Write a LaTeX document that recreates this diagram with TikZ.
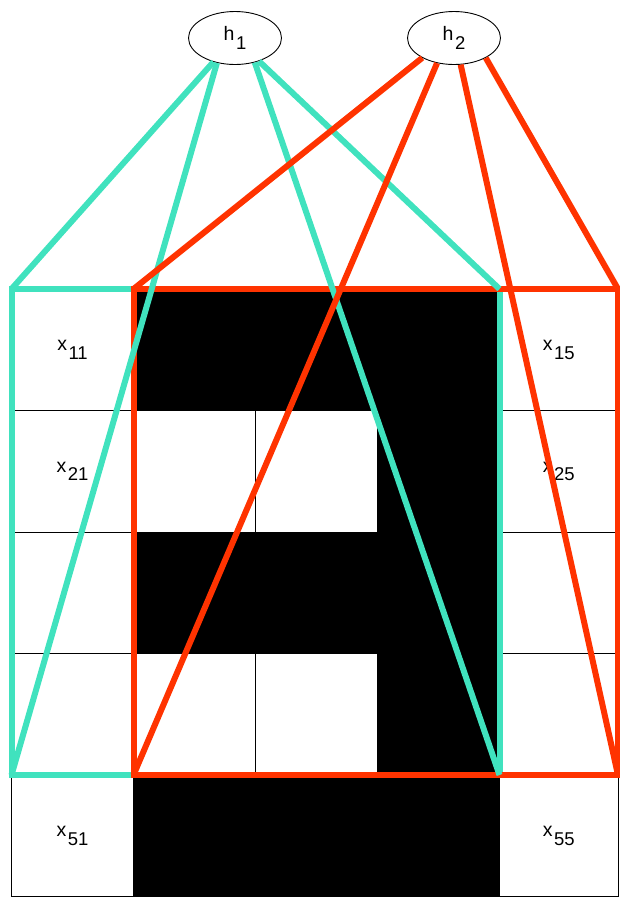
\documentclass[tikz,border=0pt]{standalone}
\usepackage{fontspec}
\setmainfont{Liberation Sans}
\definecolor{turq}{RGB}{64,226,190}
\definecolor{vermil}{RGB}{255,51,0}
\usetikzlibrary{positioning,shapes.geometric}
\newcommand{\lbl}[2]{#1\kern1.5pt\raisebox{-8.5pt}{\fontsize{18.5}{18.5}\selectfont #2}}

\begin{document}
\begin{tikzpicture}[
  x=1pt, y=-1pt,
  cell/.style={draw=black, line width=0.8pt, minimum width=122pt, minimum height=121.5pt, inner sep=0pt, outer sep=0pt, font=\fontsize{19.5}{20}\selectfont},
  dark/.style={cell, fill=black},
  lastcol/.style={cell, minimum width=118.5pt},
  unit/.style={ellipse, draw=black, line width=0.9pt, minimum width=93pt, minimum height=53pt, inner sep=0pt, font=\fontsize{19.5}{20}\selectfont},
  tline/.style={line width=6pt, color=turq},
  rline/.style={line width=6pt, color=vermil},
  node distance=0pt
]
  \useasboundingbox (0,0) rectangle (620,897);

  % hidden units
  \node[unit] (h1) at (235,38) {\lbl{h}{1}};
  \node[unit] (h2) at (454,38) {\lbl{h}{2}};

  % input grid
  \node[cell] (c11) at (72.5,349.75) {\lbl{x}{11}};
  \node[dark, right=of c11] (c12) {};
  \node[dark, right=of c12] (c13) {};
  \node[dark, right=of c13] (c14) {};
  \node[lastcol, right=of c14] (c15) {\lbl{x}{15}};

  \node[cell, below=of c11] (c21) {\lbl{x}{21}};
  \node[cell, right=of c21] (c22) {};
  \node[cell, right=of c22] (c23) {};
  \node[dark, right=of c23] (c24) {};
  \node[lastcol, right=of c24] (c25) {\lbl{x}{25}};

  \node[cell, below=of c21] (c31) {};
  \node[dark, right=of c31] (c32) {};
  \node[dark, right=of c32] (c33) {};
  \node[dark, right=of c33] (c34) {};
  \node[lastcol, right=of c34] (c35) {};

  \node[cell, below=of c31] (c41) {};
  \node[cell, right=of c41] (c42) {};
  \node[cell, right=of c42] (c43) {};
  \node[dark, right=of c43] (c44) {};
  \node[lastcol, right=of c44] (c45) {};

  \node[cell, below=of c41] (c51) {\lbl{x}{51}};
  \node[dark, right=of c51] (c52) {};
  \node[dark, right=of c52] (c53) {};
  \node[dark, right=of c53] (c54) {};
  \node[lastcol, right=of c54] (c55) {\lbl{x}{55}};

  % receptive fields
  \draw[tline] (c11.north west) rectangle (c44.south east);
  \draw[rline] (c12.north west) rectangle (c45.south east);

  \draw[tline] (h1.228) -- (c11.north west);
  \draw[tline] (h1.234) -- (c41.south west);
  \draw[tline] (h1.309) -- (c44.south east);
  \draw[tline] (h1.316) -- (c14.north east);

  \draw[rline] (h2.212) -- (c12.north west);
  \draw[rline] (h2.236) -- (c42.south west);
  \draw[rline] (h2.284) -- (c45.south east);
  \draw[rline] (h2.328) -- (c15.north east);
\end{tikzpicture}
\end{document}
